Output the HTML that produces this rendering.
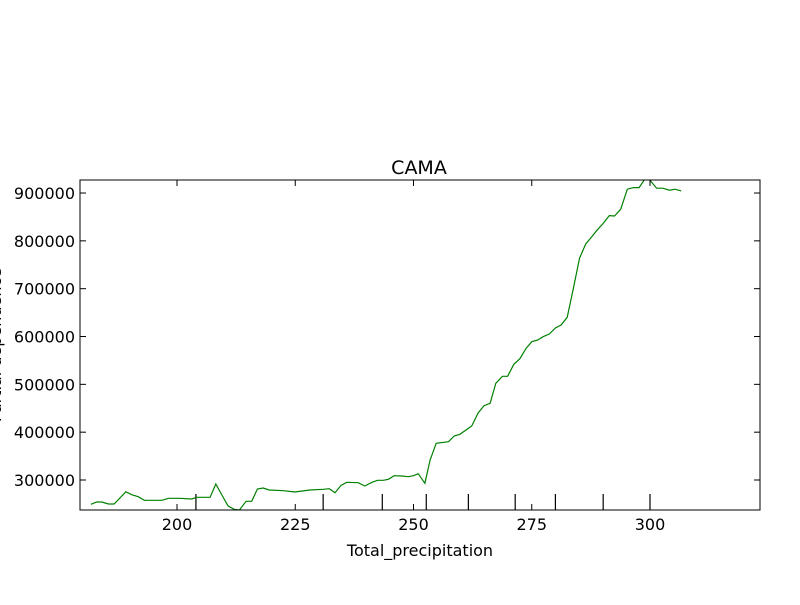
<!DOCTYPE html>
<html><head><meta charset="utf-8"><style>
body{margin:0;background:#fff;}
svg text{font-family:"DejaVu Sans","Liberation Sans",sans-serif;fill:#000;}
</style></head><body>
<svg id="chart" width="800" height="600" xmlns="http://www.w3.org/2000/svg">
<defs><clipPath id="clip"><rect x="80" y="180" width="680" height="330"/></clipPath></defs>
<rect width="800" height="600" fill="#fff"/>
<g id="rug"></g>
<path id="line" fill="none" stroke="#008000" stroke-width="1.2" clip-path="url(#clip)"/>
<g id="axes"></g>
<rect x="80" y="180" width="680" height="330" fill="none" stroke="#000" stroke-width="1"/>
<text x="419" y="174" font-size="19" text-anchor="middle">CAMA</text>
<text x="420" y="556" font-size="16" text-anchor="middle">Total_precipitation</text>
<text transform="translate(1,345) rotate(-90)" font-size="16" text-anchor="middle">Partial dependence</text>
</svg>
<script>
const xs=[181.8,183.0,184.1,185.5,186.7,189.2,190.4,191.8,193.1,196.8,198.2,200.6,203.1,204.2,207.0,208.2,209.5,210.8,212.1,213.2,214.6,215.8,217.0,218.2,219.5,222.5,224.9,228.1,230.9,232.2,233.4,234.7,235.9,238.3,239.7,241.2,242.4,243.6,244.7,245.9,247.5,248.9,250.0,251.0,252.4,253.5,254.8,257.4,258.6,259.8,262.3,263.7,264.9,266.2,267.4,268.8,269.9,271.2,272.5,273.8,275.0,276.3,277.4,278.7,280.0,281.2,282.5,283.8,285.1,286.4,287.7,288.7,290.0,291.4,292.5,293.8,295.2,296.5,297.7,299.3,301.4,302.7,304.1,305.3,306.6];
const ys=[249200,254000,254000,249800,249800,275500,269300,265100,257600,257600,261700,261700,260300,263800,263800,291600,268600,245600,238700,237300,255500,255500,281200,283300,279100,277600,274900,279100,280600,281800,273400,288900,295200,294400,287500,295200,299400,299400,301500,309000,308400,306900,309000,313200,293100,341800,376700,380100,392000,395600,412900,440700,455400,460400,502200,516800,516800,541900,553600,575400,589200,592700,599600,605300,617800,624100,640200,700800,763600,793500,808700,821300,835300,852700,852000,866000,907900,911400,911400,935000,910000,910000,905800,907900,904400];
const deciles=[204.0,230.9,243.4,252.7,261.6,271.5,280.0,290.1,300.0];
const xTicks=[200,225,250,275,300];
const yTicks=[300000,400000,500000,600000,700000,800000,900000];
const X=v=>177+(v-200)*4.73;
const Y=v=>480-(v-300000)*0.0004783;
const NS="http://www.w3.org/2000/svg";
document.getElementById('line').setAttribute('d',xs.map((x,i)=>(i?'L':'M')+X(x).toFixed(1)+','+Y(ys[i]).toFixed(1)).join(''));
const rug=document.getElementById('rug');
deciles.forEach(d=>{const l=document.createElementNS(NS,'line');


l.setAttribute('x1',X(d));l.setAttribute('x2',X(d));l.setAttribute('y1',510);l.setAttribute('y2',494);l.setAttribute('stroke','#000');l.setAttribute('stroke-width','1.2');rug.appendChild(l);});
const ax=document.getElementById('axes');
function mk(tag,attrs){const e=document.createElementNS(NS,tag);for(const k in attrs)e.setAttribute(k,attrs[k]);ax.appendChild(e);return e;}
xTicks.forEach(t=>{const x=X(t);
const a=mk('line',{x1:x,x2:x,y1:510,y2:504,stroke:'#000'});
const b=mk('line',{x1:x,x2:x,y1:180,y2:186,stroke:'#000'});
const tx=mk('text',{x:x,y:530,'font-size':16,'text-anchor':'middle'});tx.textContent=t;

});
yTicks.forEach(t=>{const y=Y(t);
const a=mk('line',{x1:80,x2:86,y1:y,y2:y,stroke:'#000'});
const b=mk('line',{x1:754,x2:760,y1:y,y2:y,stroke:'#000'});
const tx=mk('text',{x:75,y:y+6,'font-size':16,'text-anchor':'end'});tx.textContent=t;

});
</script>
</body></html>
